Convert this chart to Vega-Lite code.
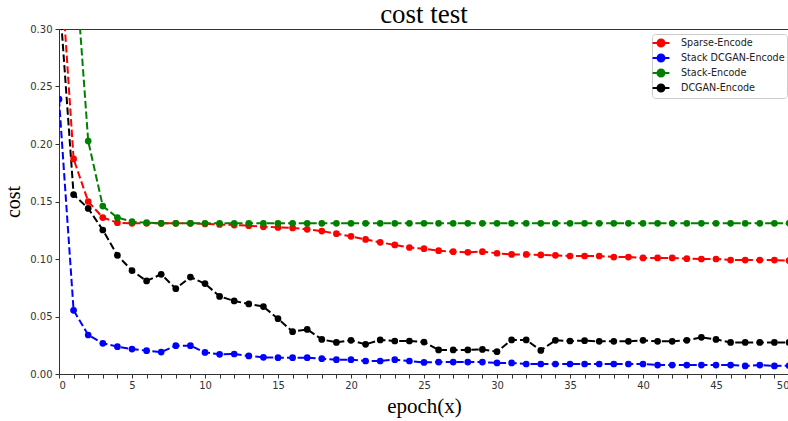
{
  "$schema": "https://vega.github.io/schema/vega-lite/v6.json",
  "width": 730,
  "height": 345,
  "autosize": "none",
  "padding": {"left": 59, "top": 29, "right": 0, "bottom": 47},
  "background": "white",
  "title": {"text": "cost test", "font": "Liberation Serif", "fontSize": 27, "fontWeight": "normal", "color": "black", "offset": -5, "anchor": "middle"},
  "config": {
    "view": {"stroke": "#333", "strokeWidth": 1},
    "axis": {"grid": false, "domainColor": "#333", "tickColor": "#333", "labelColor": "#333", "labelFont": "DejaVu Sans", "labelFontSize": 10, "tickSize": 4, "titleFont": "Liberation Serif", "titleFontWeight": "normal", "titleColor": "black"}
  },
  "data": {"values": [
    {"epoch":0,"Sparse-Encode":0.378,"Stack DCGAN-Encode":0.239,"Stack-Encode":0.55,"DCGAN-Encode":0.333},
    {"epoch":1,"Sparse-Encode":0.187,"Stack DCGAN-Encode":0.0554,"Stack-Encode":0.378,"DCGAN-Encode":0.156},
    {"epoch":2,"Sparse-Encode":0.150,"Stack DCGAN-Encode":0.0339,"Stack-Encode":0.2026,"DCGAN-Encode":0.144},
    {"epoch":3,"Sparse-Encode":0.136,"Stack DCGAN-Encode":0.0267,"Stack-Encode":0.146,"DCGAN-Encode":0.1252},
    {"epoch":4,"Sparse-Encode":0.1316,"Stack DCGAN-Encode":0.0238,"Stack-Encode":0.136,"DCGAN-Encode":0.1032},
    {"epoch":5,"Sparse-Encode":0.131,"Stack DCGAN-Encode":0.0217,"Stack-Encode":0.1325,"DCGAN-Encode":0.0899},
    {"epoch":6,"Sparse-Encode":0.131,"Stack DCGAN-Encode":0.0203,"Stack-Encode":0.1316,"DCGAN-Encode":0.0809},
    {"epoch":7,"Sparse-Encode":0.131,"Stack DCGAN-Encode":0.0191,"Stack-Encode":0.131,"DCGAN-Encode":0.0867},
    {"epoch":8,"Sparse-Encode":0.131,"Stack DCGAN-Encode":0.0246,"Stack-Encode":0.131,"DCGAN-Encode":0.0742},
    {"epoch":9,"Sparse-Encode":0.131,"Stack DCGAN-Encode":0.0246,"Stack-Encode":0.131,"DCGAN-Encode":0.0843},
    {"epoch":10,"Sparse-Encode":0.1305,"Stack DCGAN-Encode":0.0188,"Stack-Encode":0.131,"DCGAN-Encode":0.0786},
    {"epoch":11,"Sparse-Encode":0.130,"Stack DCGAN-Encode":0.0171,"Stack-Encode":0.131,"DCGAN-Encode":0.0675},
    {"epoch":12,"Sparse-Encode":0.1295,"Stack DCGAN-Encode":0.0174,"Stack-Encode":0.131,"DCGAN-Encode":0.0635},
    {"epoch":13,"Sparse-Encode":0.129,"Stack DCGAN-Encode":0.0157,"Stack-Encode":0.131,"DCGAN-Encode":0.0609},
    {"epoch":14,"Sparse-Encode":0.128,"Stack DCGAN-Encode":0.0145,"Stack-Encode":0.131,"DCGAN-Encode":0.0586},
    {"epoch":15,"Sparse-Encode":0.1275,"Stack DCGAN-Encode":0.0142,"Stack-Encode":0.131,"DCGAN-Encode":0.0481},
    {"epoch":16,"Sparse-Encode":0.127,"Stack DCGAN-Encode":0.0142,"Stack-Encode":0.131,"DCGAN-Encode":0.0368},
    {"epoch":17,"Sparse-Encode":0.1258,"Stack DCGAN-Encode":0.0142,"Stack-Encode":0.131,"DCGAN-Encode":0.0388},
    {"epoch":18,"Sparse-Encode":0.1243,"Stack DCGAN-Encode":0.0133,"Stack-Encode":0.131,"DCGAN-Encode":0.0301},
    {"epoch":19,"Sparse-Encode":0.122,"Stack DCGAN-Encode":0.0125,"Stack-Encode":0.131,"DCGAN-Encode":0.0275},
    {"epoch":20,"Sparse-Encode":0.1197,"Stack DCGAN-Encode":0.0125,"Stack-Encode":0.131,"DCGAN-Encode":0.0293},
    {"epoch":21,"Sparse-Encode":0.117,"Stack DCGAN-Encode":0.0113,"Stack-Encode":0.131,"DCGAN-Encode":0.0258},
    {"epoch":22,"Sparse-Encode":0.1145,"Stack DCGAN-Encode":0.0113,"Stack-Encode":0.131,"DCGAN-Encode":0.0296},
    {"epoch":23,"Sparse-Encode":0.1122,"Stack DCGAN-Encode":0.0125,"Stack-Encode":0.131,"DCGAN-Encode":0.0287},
    {"epoch":24,"Sparse-Encode":0.110,"Stack DCGAN-Encode":0.0113,"Stack-Encode":0.131,"DCGAN-Encode":0.0287},
    {"epoch":25,"Sparse-Encode":0.109,"Stack DCGAN-Encode":0.0101,"Stack-Encode":0.131,"DCGAN-Encode":0.0278},
    {"epoch":26,"Sparse-Encode":0.1072,"Stack DCGAN-Encode":0.0104,"Stack-Encode":0.131,"DCGAN-Encode":0.0209},
    {"epoch":27,"Sparse-Encode":0.1064,"Stack DCGAN-Encode":0.0104,"Stack-Encode":0.131,"DCGAN-Encode":0.0209},
    {"epoch":28,"Sparse-Encode":0.1058,"Stack DCGAN-Encode":0.0104,"Stack-Encode":0.131,"DCGAN-Encode":0.0209},
    {"epoch":29,"Sparse-Encode":0.1064,"Stack DCGAN-Encode":0.0104,"Stack-Encode":0.131,"DCGAN-Encode":0.0214},
    {"epoch":30,"Sparse-Encode":0.105,"Stack DCGAN-Encode":0.0096,"Stack-Encode":0.131,"DCGAN-Encode":0.0194},
    {"epoch":31,"Sparse-Encode":0.104,"Stack DCGAN-Encode":0.0096,"Stack-Encode":0.131,"DCGAN-Encode":0.0296},
    {"epoch":32,"Sparse-Encode":0.104,"Stack DCGAN-Encode":0.0087,"Stack-Encode":0.131,"DCGAN-Encode":0.0296},
    {"epoch":33,"Sparse-Encode":0.1035,"Stack DCGAN-Encode":0.0087,"Stack-Encode":0.131,"DCGAN-Encode":0.0205},
    {"epoch":34,"Sparse-Encode":0.1032,"Stack DCGAN-Encode":0.0087,"Stack-Encode":0.131,"DCGAN-Encode":0.0293},
    {"epoch":35,"Sparse-Encode":0.1026,"Stack DCGAN-Encode":0.0087,"Stack-Encode":0.131,"DCGAN-Encode":0.0287},
    {"epoch":36,"Sparse-Encode":0.1026,"Stack DCGAN-Encode":0.0087,"Stack-Encode":0.131,"DCGAN-Encode":0.029},
    {"epoch":37,"Sparse-Encode":0.1026,"Stack DCGAN-Encode":0.0087,"Stack-Encode":0.131,"DCGAN-Encode":0.0284},
    {"epoch":38,"Sparse-Encode":0.1017,"Stack DCGAN-Encode":0.0087,"Stack-Encode":0.131,"DCGAN-Encode":0.0284},
    {"epoch":39,"Sparse-Encode":0.1017,"Stack DCGAN-Encode":0.0087,"Stack-Encode":0.131,"DCGAN-Encode":0.0284},
    {"epoch":40,"Sparse-Encode":0.1009,"Stack DCGAN-Encode":0.0087,"Stack-Encode":0.131,"DCGAN-Encode":0.0293},
    {"epoch":41,"Sparse-Encode":0.1009,"Stack DCGAN-Encode":0.0078,"Stack-Encode":0.131,"DCGAN-Encode":0.0284},
    {"epoch":42,"Sparse-Encode":0.1009,"Stack DCGAN-Encode":0.0078,"Stack-Encode":0.131,"DCGAN-Encode":0.0284},
    {"epoch":43,"Sparse-Encode":0.1003,"Stack DCGAN-Encode":0.0078,"Stack-Encode":0.131,"DCGAN-Encode":0.0293},
    {"epoch":44,"Sparse-Encode":0.100,"Stack DCGAN-Encode":0.0078,"Stack-Encode":0.131,"DCGAN-Encode":0.0319},
    {"epoch":45,"Sparse-Encode":0.100,"Stack DCGAN-Encode":0.0078,"Stack-Encode":0.131,"DCGAN-Encode":0.0301},
    {"epoch":46,"Sparse-Encode":0.0991,"Stack DCGAN-Encode":0.0078,"Stack-Encode":0.131,"DCGAN-Encode":0.0275},
    {"epoch":47,"Sparse-Encode":0.0991,"Stack DCGAN-Encode":0.007,"Stack-Encode":0.131,"DCGAN-Encode":0.0275},
    {"epoch":48,"Sparse-Encode":0.0991,"Stack DCGAN-Encode":0.0078,"Stack-Encode":0.131,"DCGAN-Encode":0.0275},
    {"epoch":49,"Sparse-Encode":0.0991,"Stack DCGAN-Encode":0.007,"Stack-Encode":0.131,"DCGAN-Encode":0.0275},
    {"epoch":50,"Sparse-Encode":0.0986,"Stack DCGAN-Encode":0.0072,"Stack-Encode":0.131,"DCGAN-Encode":0.0275}
  ]},
  "transform": [
    {"fold": ["Sparse-Encode", "Stack DCGAN-Encode", "Stack-Encode", "DCGAN-Encode"], "as": ["series", "cost"]}
  ],
  "encoding": {
    "x": {"field": "epoch", "type": "quantitative", "scale": {"domain": [0, 50], "nice": false},
      "axis": {"title": "epoch(x)", "titleFontSize": 21, "titlePadding": 5, "values": [0,1,2,3,4,5,6,7,8,9,10,11,12,13,14,15,16,17,18,19,20,21,22,23,24,25,26,27,28,29,30,31,32,33,34,35,36,37,38,39,40,41,42,43,44,45,46,47,48,49,50],
        "labelExpr": "datum.value % 5 === 0 ? datum.label : ''", "labelPadding": 2}},
    "y": {"field": "cost", "type": "quantitative", "scale": {"domain": [0, 0.3], "nice": false},
      "axis": {"title": "cost", "titleFontSize": 20, "titlePadding": 6, "values": [0, 0.05, 0.1, 0.15, 0.2, 0.25, 0.3], "format": ".2f", "labelPadding": 3}},
    "color": {"field": "series", "type": "nominal",
      "scale": {"domain": ["Sparse-Encode", "Stack DCGAN-Encode", "Stack-Encode", "DCGAN-Encode"], "range": ["#ff0000", "#0000ff", "#008000", "#000000"]},
      "legend": {"title": null, "orient": "none", "legendX": 593, "legendY": 5,
        "symbolType": "M-1.4,0H1.4M-0.58,0A0.58,0.58 0 1,0 0.58,0A0.58,0.58 0 1,0 -0.58,0",
        "symbolSize": 144, "symbolStrokeWidth": 2, "symbolDash": [],
        "labelFont": "DejaVu Sans", "labelFontSize": 9.6, "labelColor": "#222", "labelOffset": 13, "labelLimit": 200,
        "rowPadding": -2, "padding": 2, "strokeColor": "#cccccc", "fillColor": "white", "cornerRadius": 3,
        "encode": {"symbols": {"update": {"fill": {"scale": "color", "field": "value"}, "stroke": {"scale": "color", "field": "value"}, "strokeDash": {"value": []}, "opacity": {"value": 1}}}}}}
  },
  "layer": [
    {"mark": {"type": "line", "clip": true, "strokeWidth": 2, "strokeDash": [7.4, 3.2]}},
    {"mark": {"type": "point", "clip": true, "filled": true, "size": 45, "opacity": 1}}
  ]
}
